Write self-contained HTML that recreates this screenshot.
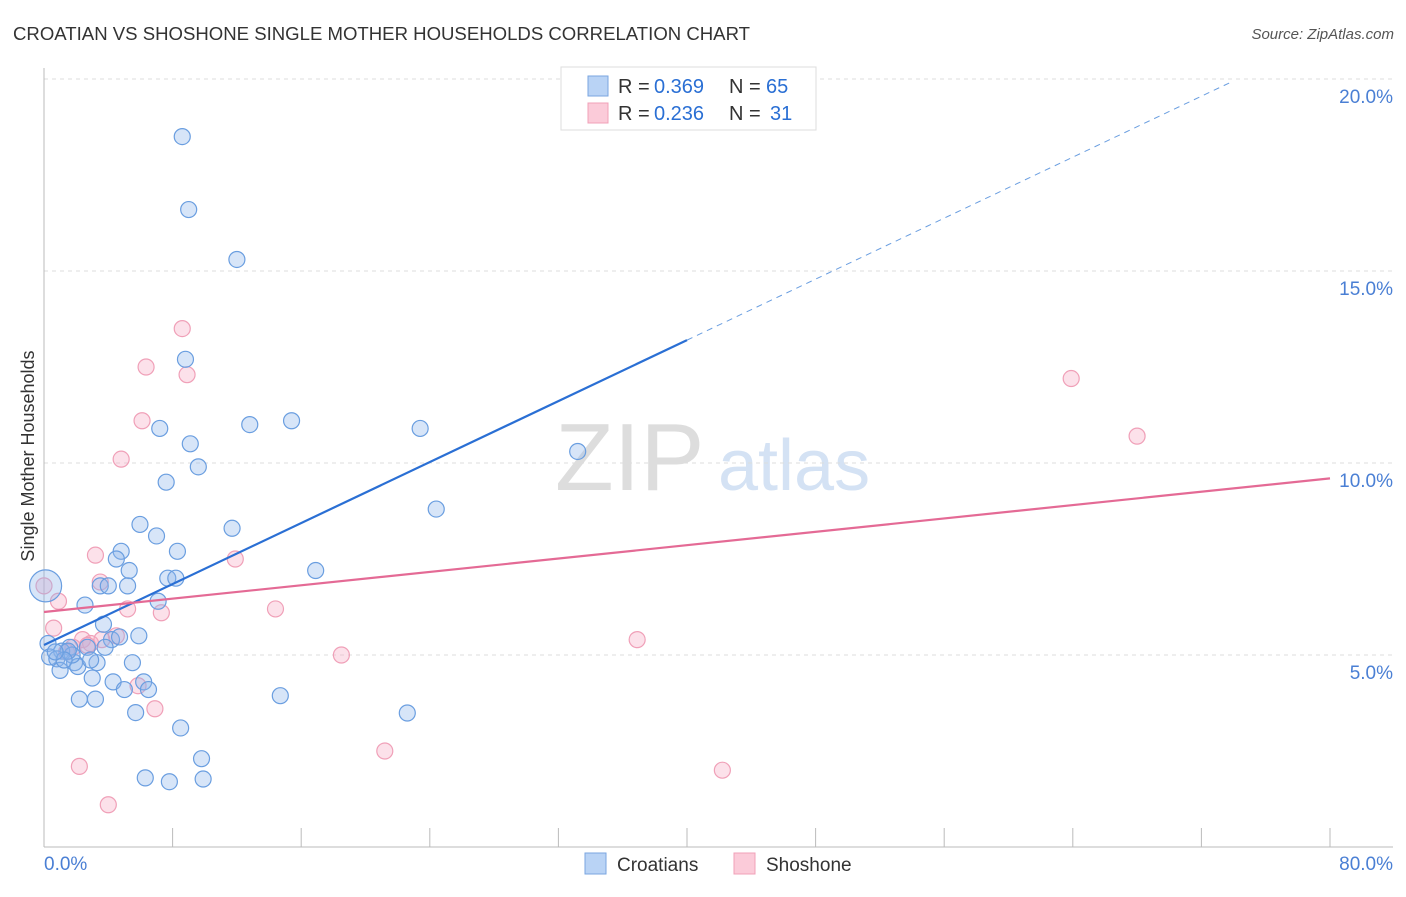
<!DOCTYPE html>
<html><head><meta charset="utf-8"><style>
body{margin:0;background:#fff;font-family:"Liberation Sans",sans-serif;}
svg text{font-family:"Liberation Sans",sans-serif;}
</style></head><body>
<svg width="1406" height="892" viewBox="0 0 1406 892">
<text x="13" y="40" font-size="18" fill="#333" textLength="737" lengthAdjust="spacingAndGlyphs">CROATIAN VS SHOSHONE SINGLE MOTHER HOUSEHOLDS CORRELATION CHART</text>
<text x="1394" y="39" font-size="15" fill="#555" font-style="italic" text-anchor="end">Source: ZipAtlas.com</text>
<text x="555" y="490" font-size="96" fill="#ddd" font-family="Liberation Serif">ZIP</text>
<text x="718" y="490" font-size="72" fill="#d4e2f4">atlas</text>
<g id="grid"></g>
<line x1="44" y1="68" x2="44" y2="847" stroke="#bbb"/>
<line x1="44" y1="847" x2="1393" y2="847" stroke="#bbb"/>
<g id="ticks"></g>
<text x="34" y="456" font-size="18" fill="#333" text-anchor="middle" transform="rotate(-90 34 456)">Single Mother Households</text>
<text x="44" y="870" font-size="19" fill="#4a7fd4">0.0%</text>
<text x="1393" y="870" font-size="19" fill="#4a7fd4" text-anchor="end">80.0%</text>
<g id="pts"></g>
<g id="lines"></g>
<g>
<rect x="561" y="67" width="255" height="63" fill="#fff" stroke="#ddd"/>
<rect x="588" y="76" width="20" height="20" fill="#b9d3f5" stroke="#7aa6e0"/>
<rect x="588" y="103" width="20" height="20" fill="#fbcbd9" stroke="#f0a0b8"/>
<text x="618" y="93" font-size="20" fill="#333">R =</text>
<text x="654" y="93" font-size="20" fill="#2a6fd4">0.369</text>
<text x="729" y="93" font-size="20" fill="#333">N =</text>
<text x="766" y="93" font-size="20" fill="#2a6fd4">65</text>
<text x="618" y="120" font-size="20" fill="#333">R =</text>
<text x="654" y="120" font-size="20" fill="#2a6fd4">0.236</text>
<text x="729" y="120" font-size="20" fill="#333">N =</text>
<text x="770" y="120" font-size="20" fill="#2a6fd4">31</text>
</g>
<g>
<rect x="585" y="853" width="21" height="21" fill="#b9d3f5" stroke="#7aa6e0"/>
<text x="617" y="871" font-size="19" fill="#333">Croatians</text>
<rect x="734" y="853" width="21" height="21" fill="#fbcbd9" stroke="#f0a0b8"/>
<text x="766" y="871" font-size="19" fill="#333">Shoshone</text>
</g>
</svg>
<script>
const yTicks=[5,10,15,20];
const xTicks=[0,8,16,24,32,40,48,56,64,72,80];
const croX=[8.6,9.0,12.0,8.8,12.8,15.4,7.2,9.1,23.4,9.6,7.6,33.2,24.4,5.97,11.7,7.0,4.8,8.3,4.5,16.9,5.3,7.7,8.2,3.5,4.0,5.2,0.1,7.1,2.55,3.7,5.9,4.2,0.25,1.6,3.8,1.1,2.7,0.35,0.8,1.9,3.3,5.5,1.0,2.1,3.0,4.3,6.2,5.0,6.5,2.2,3.2,14.7,5.7,22.6,8.5,9.8,6.3,7.8,9.9,1.75,1.5,2.9,4.7,1.25,0.7];
const croY=[18.5,16.6,15.3,12.7,11.0,11.1,10.9,10.5,10.9,9.9,9.5,10.3,8.8,8.4,8.3,8.1,7.7,7.7,7.5,7.2,7.2,7.0,7.0,6.8,6.8,6.8,6.8,6.4,6.3,5.8,5.5,5.4,5.3,5.2,5.2,5.1,5.2,4.95,4.9,4.8,4.8,4.8,4.6,4.7,4.4,4.3,4.3,4.1,4.1,3.85,3.85,3.94,3.5,3.49,3.1,2.3,1.8,1.7,1.77,5.0,5.1,4.87,5.47,4.87,5.08];
const croR=[8,8,8,8,8,8,8,8,8,8,8,8,8,8,8,8,8,8,8,8,8,8,8,8,8,8,16,8,8,8,8,8,8,8,8,8,8,8,8,8,8,8,8,8,8,8,8,8,8,8,8,8,8,8,8,8,8,8,8,8,8,8,8,8,8];
const shoX=[8.6,6.35,8.9,6.1,4.8,3.2,11.9,3.5,0.9,5.2,7.3,14.4,0.6,4.5,2.4,2.9,1.8,3.6,2.7,18.5,36.9,63.9,68.0,5.85,6.9,2.2,21.2,42.2,4.0,0.0,1.4];
const shoY=[13.5,12.5,12.3,11.1,10.1,7.6,7.5,6.9,6.4,6.2,6.1,6.2,5.7,5.5,5.4,5.3,5.2,5.4,5.25,5.0,5.4,12.2,10.7,4.2,3.6,2.1,2.5,2.0,1.1,6.8,5.08];
const croFit=[5.26,13.2];
const shoFit=[6.12,9.6];
const X=v=>44+v*16.075, Y=v=>847-v*38.4;
const NS="http://www.w3.org/2000/svg";
function mk(t,a,p){const e=document.createElementNS(NS,t);for(const k in a)e.setAttribute(k,a[k]);p.appendChild(e);return e;}
const grid=document.getElementById('grid');
yTicks.forEach(t=>{
 const l=mk('line',{x1:44,x2:1393,y1:Y(t),y2:Y(t),stroke:'#ddd','stroke-dasharray':'4 4'},grid);
 
 
 const tx=mk('text',{x:1393,y:Y(t)+24,'font-size':19,fill:'#4a7fd4','text-anchor':'end'},grid);
 tx.textContent=t.toFixed(1)+'%';
 
 
});
const tk=document.getElementById('ticks');
xTicks.forEach(t=>{
 const l=mk('line',{x1:X(t),x2:X(t),y1:828,y2:847,stroke:'#bbb'},tk);
 
 
});
const pts=document.getElementById('pts');
shoX.forEach((v,i)=>{
 const c=mk('circle',{cx:X(v),cy:Y(shoY[i]),r:8,fill:'rgba(246,170,195,0.35)',stroke:'#f0a0b8','stroke-width':1.2},pts);
 
 
});
croX.forEach((v,i)=>{
 const c=mk('circle',{cx:X(v),cy:Y(croY[i]),r:croR[i],fill:'rgba(140,180,235,0.35)',stroke:'#6a9ee0','stroke-width':1.2},pts);
 
 
});
const ln=document.getElementById('lines');
const cy=x=>croFit[0]+(croFit[1]-croFit[0])*x/40;
const b1=mk('line',{x1:X(0),y1:Y(cy(0)),x2:X(40),y2:Y(cy(40)),stroke:'#2a6fd4','stroke-width':2.2},ln);


const b2=mk('line',{x1:X(40),y1:Y(cy(40)),x2:X(74),y2:Y(cy(74)),stroke:'#6a9ee0','stroke-width':1,'stroke-dasharray':'6 5'},ln);


const p1=mk('line',{x1:X(0),y1:Y(shoFit[0]),x2:X(80),y2:Y(shoFit[1]),stroke:'#e46a95','stroke-width':2.2},ln);


</script>
</body></html>
